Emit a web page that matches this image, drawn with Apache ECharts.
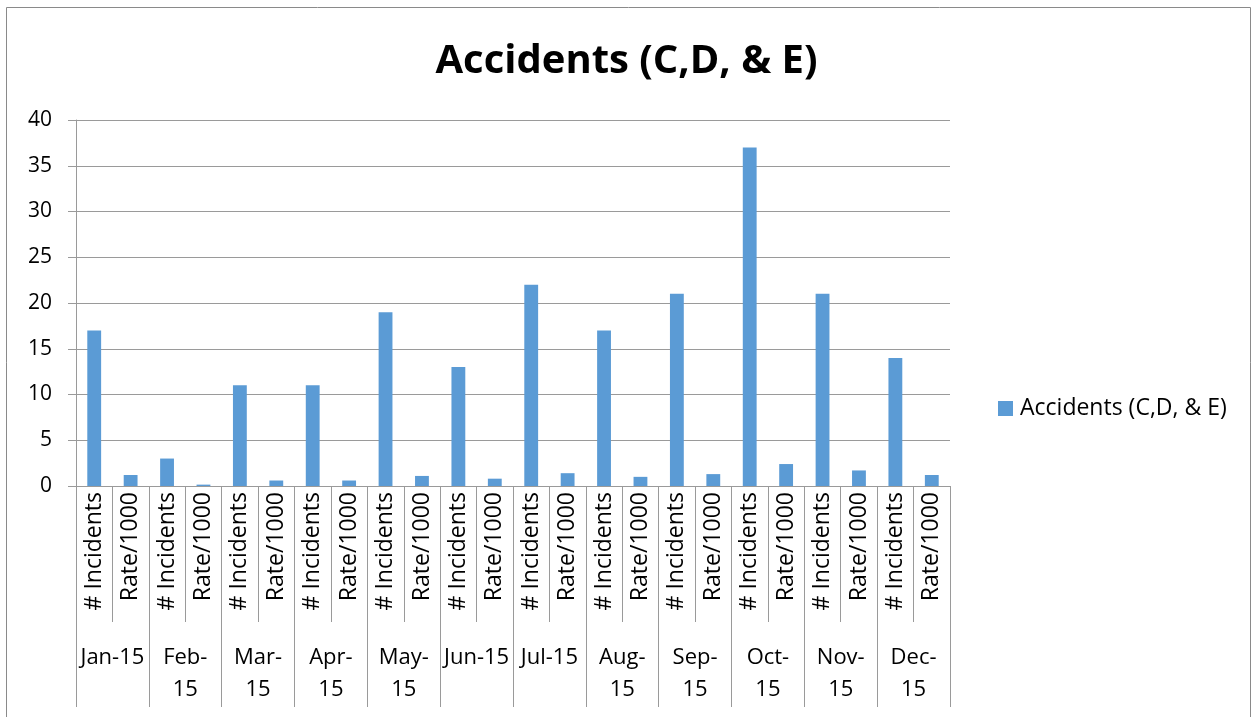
<!DOCTYPE html>
<html>
<head>
<meta charset="utf-8">
<script src="https://cdn.jsdelivr.net/npm/echarts@6/dist/echarts.min.js"></script>
<style>
html,body{margin:0;padding:0;background:#fff;}
#chart{width:1253px;height:717px;}
</style>
</head>
<body>
<div id="chart"></div>
<script>
// 事故统计 柱状图
var months = ['Jan-15', 'Feb-\n15', 'Mar-\n15', 'Apr-\n15', 'May-\n15', 'Jun-15', 'Jul-15', 'Aug-\n15', 'Sep-\n15', 'Oct-\n15', 'Nov-\n15', 'Dec-\n15'];
var subLabels = ['# Incidents', 'Rate/1000'];
var incidents = [17, 3, 11, 11, 19, 13, 22, 17, 21, 37, 21, 14];
var rates = [1.2, 0.15, 0.6, 0.6, 1.1, 0.8, 1.4, 1.0, 1.3, 2.4, 1.7, 1.2];
var yTicks = [0, 5, 10, 15, 20, 25, 30, 35, 40];

var cats = [];
var values = [];
for (var i = 0; i < months.length; i++) {
    cats.push(subLabels[0], subLabels[1]);
    values.push(incidents[i], rates[i]);
}

var font = 'Open Sans';
var lineColor = '#9a9a9a';

var chart = echarts.init(document.getElementById('chart'));

var option = {
    animation: false,
    textStyle: { fontFamily: font },
    title: {
        text: 'Accidents (C,D, & E)',
        left: 'center',
        top: 37,
        textStyle: { fontSize: 40, fontWeight: 'bold', color: '#000', fontFamily: font }
    },
    legend: {
        left: 993,
        top: 392,
        itemWidth: 15,
        itemHeight: 15,
        itemGap: 6,
        icon: 'rect',
        data: ['Accidents (C,D, & E)'],
        textStyle: { fontSize: 23, color: '#000', fontFamily: font, padding: [0, 0, 0, 2] }
    },
    grid: {
        left: 76,
        right: 303,
        top: 120,
        bottom: 231
    },
    xAxis: [
        {
            type: 'category',
            data: cats,
            position: 'bottom',
            axisLine: { lineStyle: { color: lineColor } },
            axisTick: { show: true, interval: 0, length: 136, lineStyle: { color: lineColor } },
            axisLabel: { interval: 0, rotate: 90, margin: 6, fontSize: 23, color: '#000' }
        },
        {
            type: 'category',
            data: months,
            position: 'bottom',
            axisLine: { show: false },
            axisTick: { show: true, interval: 0, length: 221, lineStyle: { color: lineColor } },
            axisLabel: { interval: 0, margin: 156, fontSize: 22, lineHeight: 32, color: '#000' }
        }
    ],
    yAxis: {
        type: 'value',
        min: yTicks[0],
        max: yTicks[yTicks.length - 1],
        interval: 5,
        axisLine: { show: true, lineStyle: { color: lineColor } },
        axisTick: { show: true, length: 8, lineStyle: { color: lineColor } },
        axisLabel: { fontSize: 21, color: '#000', margin: 24 },
        splitLine: { lineStyle: { color: lineColor } }
    },
    series: [
        {
            name: 'Accidents (C,D, & E)',
            type: 'bar',
            xAxisIndex: 0,
            data: values,
            barWidth: '38%',
            itemStyle: { color: '#5b9bd5' }
        }
    ],
    graphic: [
        {
            type: 'rect',
            shape: { x: 6.5, y: 7.5, width: 1244, height: 720 },
            style: { fill: 'none', stroke: '#8a8a8a', lineWidth: 1 },
            silent: true
        }
    ]
};
chart.setOption(option);
</script>
</body>
</html>
